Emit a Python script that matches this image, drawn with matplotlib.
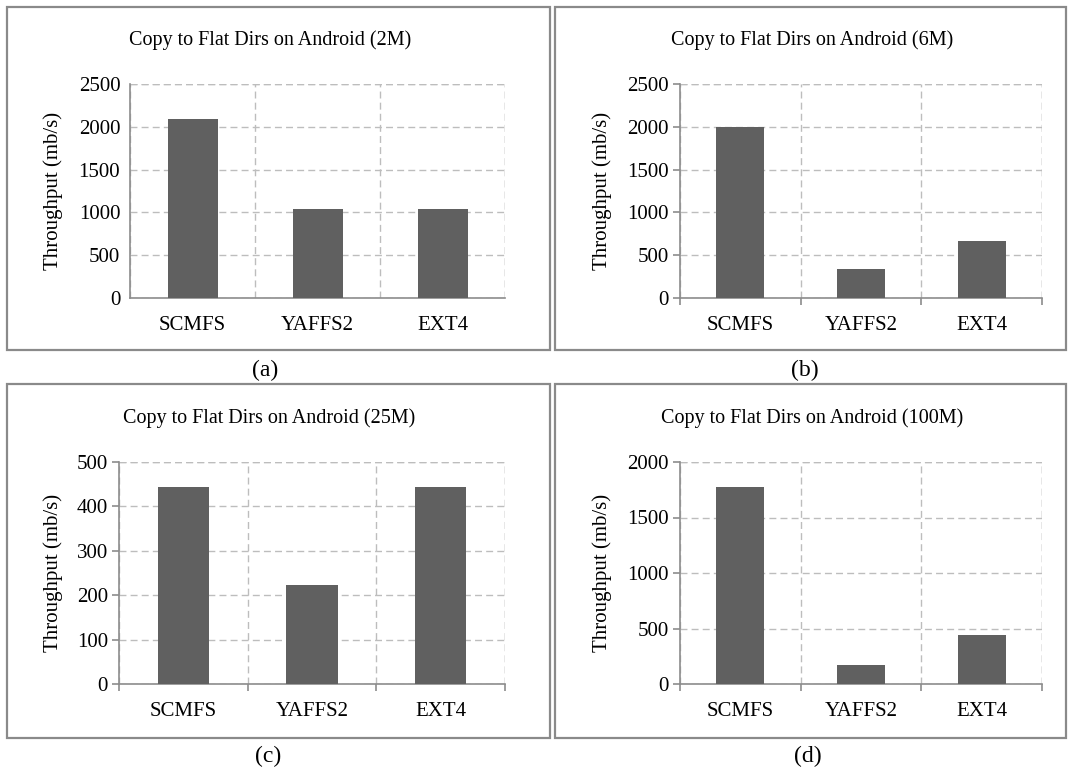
import numpy as np
import matplotlib.pyplot as plt
from matplotlib.patches import Rectangle

plt.rcParams['font.family'] = ['Liberation Serif', 'DejaVu Serif']

W, H = 1073, 771
systems = ['SCMFS', 'YAFFS2', 'EXT4']
titles = ['Copy to Flat Dirs on Android (2M)', 'Copy to Flat Dirs on Android (6M)',
          'Copy to Flat Dirs on Android (25M)', 'Copy to Flat Dirs on Android (100M)']
tp_2m = [2090, 1045, 1045]
tp_6m = [2000, 335, 665]
tp_25m = [444, 222, 444]
tp_100m = [1775, 175, 440]
ymax = [2500, 2500, 500, 2000]
ystep = [500, 500, 100, 500]
sub_labels = ['(a)', '(b)', '(c)', '(d)']

BAR_COLOR = '#606060'
AXIS_COLOR = '#8c8c8c'
GRID_attr = {'color': '#bdbdbd', 'linestyle': (0, (5, 3)), 'linewidth': 1.0}

# panel geometry in pixels: box (x0, y0, x1, y1), axes (x0, y0, x1, y1), title pos, sublabel pos
boxes = [(7, 7, 550, 350), (555, 7, 1066, 350), (7, 384, 550, 738), (555, 384, 1066, 738)]
axes_px = [(130, 84, 505, 298), (680, 84, 1042, 298), (119, 462, 505, 684), (680, 462, 1042, 684)]
title_px = [(270, 40), (812, 40), (269, 418), (812, 418)]
sub_px = [(265, 370), (805, 370), (268, 756), (808, 756)]
ylab_x = [53, 602, 53, 602]

fig = plt.figure(figsize=(W / 100, H / 100), dpi=100)

for i, vals in enumerate([tp_2m, tp_6m, tp_25m, tp_100m]):
    bx0, by0, bx1, by1 = boxes[i]
    fig.patches.append(Rectangle((bx0 / W, 1 - by1 / H), (bx1 - bx0) / W, (by1 - by0) / H,
                                 transform=fig.transFigure, fill=False,
                                 edgecolor='#8a8a8a', linewidth=1.6))
    x0, y0, x1, y1 = axes_px[i]
    ax = fig.add_axes([x0 / W, 1 - y1 / H, (x1 - x0) / W, (y1 - y0) / H])
    pos = np.arange(len(systems))
    ax.bar(pos, vals, width=0.4, color=BAR_COLOR, zorder=3)
    ax.set_xlim(-0.5, len(systems) - 0.5)
    ax.set_ylim(0, ymax[i])
    ax.set_yticks(np.arange(0, ymax[i] + 1, ystep[i]))
    ax.set_xticks(pos)
    ax.set_xticklabels(systems)
    # vertical grid at category boundaries
    ax.set_xticks(np.arange(-0.5, len(systems)), minor=True)
    ax.grid(axis='y', which='major', **GRID_attr, zorder=0)
    ax.grid(axis='x', which='minor', **GRID_attr, zorder=0)
    for s in ['top', 'right']:
        ax.spines[s].set_visible(False)
    for s in ['left', 'bottom']:
        ax.spines[s].set_color(AXIS_COLOR)
        ax.spines[s].set_linewidth(1.2)
    ax.tick_params(axis='x', which='major', length=0, pad=13, labelsize=15)
    if i == 0:
        ax.tick_params(axis='y', length=0, pad=7, labelsize=15)
        ax.tick_params(axis='x', which='minor', length=0)
    else:
        ax.tick_params(axis='y', length=5, color=AXIS_COLOR, width=1.2, pad=3, labelsize=15)
        ax.tick_params(axis='x', which='minor', length=5, color=AXIS_COLOR, width=1.2)
    # right-most dashed gridline shows as the frame
    ax.axvline(len(systems) - 0.5, **GRID_attr, zorder=0)
    ax.axhline(ymax[i], **GRID_attr, zorder=0)
    fig.text(ylab_x[i] / W, 1 - ((y0 + y1) / 2) / H, 'Throughput (mb/s)', rotation=90,
             ha='center', va='center', fontsize=15)
    fig.text(title_px[i][0] / W, 1 - title_px[i][1] / H, titles[i], ha='center', va='center',
             fontsize=14.5)
    fig.text(sub_px[i][0] / W, 1 - sub_px[i][1] / H, sub_labels[i], ha='center', va='center',
             fontsize=17)

fig.savefig('out.png', dpi=100)
